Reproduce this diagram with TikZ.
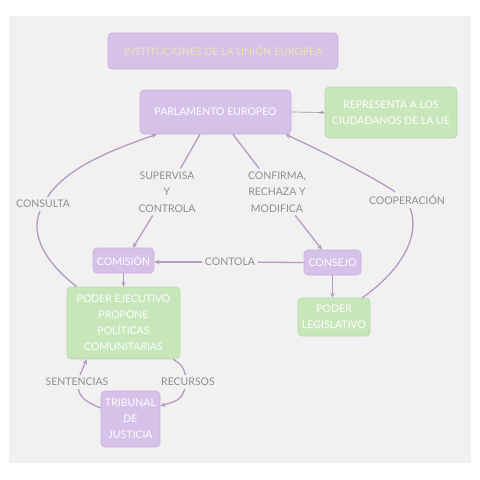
\documentclass[tikz,border=0pt]{standalone}
\usepackage{fontspec}
\setmainfont{Lato}
\usetikzlibrary{arrows.meta,calc}
\definecolor{bg}{HTML}{F1F1F1}
\definecolor{lav}{HTML}{D6C1E8}
\definecolor{lavd}{HTML}{C9B2DE}
\definecolor{grn}{HTML}{C7E6BA}
\definecolor{grnd}{HTML}{B8D9AA}
\definecolor{conncol}{HTML}{B39BC4}
\definecolor{lbl}{HTML}{8E8E8E}
\definecolor{ttl}{HTML}{EDE5B5}
\definecolor{garr}{HTML}{9A9A9A}
\begin{document}
\begin{tikzpicture}[x=1pt,y=-1pt,
 box/.style={draw, rounded corners=4pt, inner sep=0pt, align=center, text=white, font=\fontsize{10.5}{16}\selectfont, line width=0.6pt},
 lbox/.style={box, fill=lav, draw=lavd},
 gbox/.style={box, fill=grn, draw=grnd},
 lab/.style={text=lbl, align=center, font=\fontsize{10.5}{16.5}\selectfont, inner sep=3pt},
 conn/.style={draw=conncol, line width=1.3pt},
 arr/.style={conn, -{Stealth[length=5pt,width=4.5pt]}},
 garrow/.style={draw=garr, line width=0.7pt, -{Stealth[length=4pt,width=3.5pt]}}]
\useasboundingbox (0,0) rectangle (480,480);
\fill[white] (0,0) rectangle (480,480);
\fill[bg] (9,16) rectangle (471,463);

\node[lbox, minimum width=230pt, minimum height=36pt, text=ttl] (title) at (223,51) {INSTITUCIONES DE LA UNIÓN EUROPEA};
\node[lbox, minimum width=151pt, minimum height=44pt] (parl) at (215.5,112) {PARLAMENTO EUROPEO};
\node[gbox, minimum width=132pt, minimum height=51pt] (rep) at (391,112.5) {REPRESENTA A LOS\\CIUDADANOS DE LA UE};
\node[lbox, minimum width=61pt, minimum height=25pt] (com) at (123.5,260.5) {COMISIÓN};
\node[lbox, minimum width=57pt, minimum height=25pt] (cons) at (332.5,262.5) {CONSEJO};
\node[gbox, minimum width=113pt, minimum height=72pt] (ejec) at (123.5,323) {PODER EJECUTIVO\\PROPONE\\POLÍTICAS\\COMUNITARIAS};
\node[gbox, minimum width=72pt, minimum height=38pt] (leg) at (334,317) {PODER\\LEGISLATIVO};
\node[lbox, minimum width=59pt, minimum height=56pt] (trib) at (130.5,419) {TRIBUNAL\\DE\\JUSTICIA};

\node[lab] (sup) at (167,192) {SUPERVISA\\Y\\CONTROLA};
\node[lab] (conf) at (277,192) {CONFIRMA,\\RECHAZA Y\\MODIFICA};
\node[lab] (consulta) at (43,204) {CONSULTA};
\node[lab] (coop) at (407,200) {COOPERACIÓN};
\node[lab] (contola) at (230,262) {CONTOLA};
\node[lab] (sent) at (77,382) {SENTENCIAS};
\node[lab] (recur) at (188,382) {RECURSOS};

\draw[garrow] (parl.east) -- (rep.west);
\draw[conn] ($(parl.south)+(-15.5,0)$) -- (sup);
\draw[arr] (sup) -- ($(com.north)+(9.5,0)$);
\draw[conn] ($(parl.south)+(17.5,0)$) -- (conf);
\draw[arr] (conf) -- ($(cons.north)+(-10.5,0)$);
\draw[conn] (cons.west) -- (contola);
\draw[arr] (contola) -- (contola -| com.east);
\draw[arr] (com.south) -- (ejec.north);
\draw[arr] (cons.south) -- (cons.south |- leg.north);

\draw[conn] ($(ejec.north west)+(10,0)$) .. controls (45,262) and (30,235) .. (consulta);
\draw[arr] (consulta) .. controls (65,170) and (105,152) .. ($(parl.south west)+(17,0)$);

\draw[conn] ($(leg.north east)+(-8,0)$) .. controls (395,275) and (422,240) .. (coop);
\draw[arr] (coop) .. controls (375,178) and (320,150) .. ($(parl.south east)+(-6,0)$);

\draw[conn] ($(trib.west)+(0,-11)$) .. controls (88,403) and (80,398) .. (sent);
\draw[arr] (sent) .. controls (83,368) .. ($(ejec.south west)+(20,0)$);

\draw[conn] ($(ejec.south east)+(-7,0)$) .. controls (182,365) .. (recur);
\draw[arr] (recur) .. controls (180,400) .. ($(trib.east)+(0,-13)$);
\end{tikzpicture}
\end{document}
